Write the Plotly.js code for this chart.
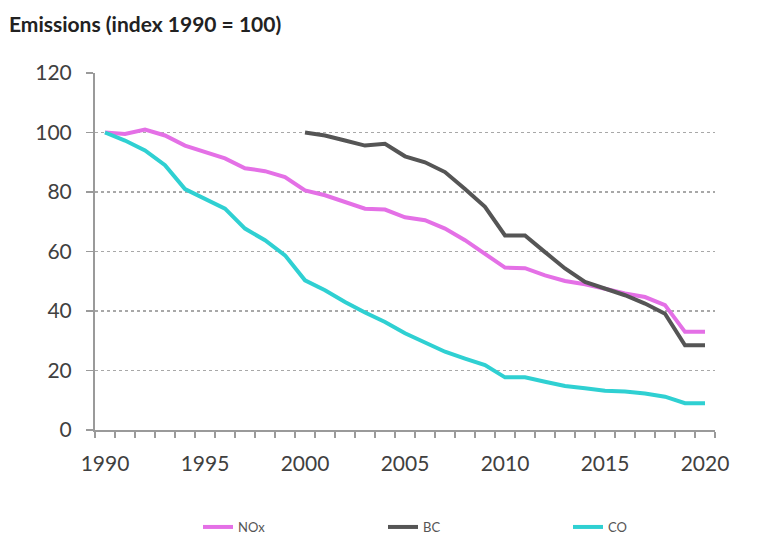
<!DOCTYPE html>
<html>
<head>
<meta charset="utf-8">
<script src="https://cdn.plot.ly/plotly-3.0.1.min.js"></script>
<style>
  html, body { margin: 0; padding: 0; background: #ffffff; }
  #chart { width: 768px; height: 541px; }
</style>
</head>
<body>
<div id="chart"></div>
<script>
// Years (categories)
const years = [1990,1991,1992,1993,1994,1995,1996,1997,1998,1999,2000,2001,2002,2003,2004,2005,2006,2007,2008,2009,2010,2011,2012,2013,2014,2015,2016,2017,2018,2019,2020];
const bcYears = [2000,2001,2002,2003,2004,2005,2006,2007,2008,2009,2010,2011,2012,2013,2014,2015,2016,2017,2018,2019,2020];

// Series values (index 1990 = 100)
const noxValues = [100, 99.5, 101, 99, 95.6, 93.4, 91.3, 88, 87, 85, 80.5, 78.9, 76.6, 74.4, 74.1, 71.5, 70.5, 67.7, 63.8, 59.3, 54.6, 54.4, 52, 50.1, 49, 47.5, 45.9, 44.7, 42, 33, 33];
const bcValues = [100, 99, 97.3, 95.6, 96.2, 92, 90, 86.7, 81, 75, 65.4, 65.4, 59.8, 54.3, 49.8, 47.5, 45.3, 42.5, 39.1, 28.5, 28.5];
const coValues = [100, 97.3, 94, 89, 81, 77.7, 74.4, 67.7, 63.8, 58.7, 50.3, 47, 43, 39.5, 36.3, 32.5, 29.3, 26.3, 24, 21.8, 17.7, 17.7, 16.2, 14.8, 14, 13.2, 12.9, 12.3, 11.2, 9, 9];

// Tick labels
const xTickVals = [1990, 1995, 2000, 2005, 2010, 2015, 2020];
const xTickText = ["1990", "1995", "2000", "2005", "2010", "2015", "2020"];
const yTickVals = [0, 20, 40, 60, 80, 100, 120];

const seriesNames = ["NOx", "BC", "CO"];
const titleText = "Emissions (index 1990 = 100)";

const FONT = "Lato, 'Open Sans', 'Liberation Sans', sans-serif";

const traces = [
  { x: years, y: noxValues, name: seriesNames[0], type: "scatter", mode: "lines",
    line: { color: "#e470e6", width: 4 } },
  { x: bcYears, y: bcValues, name: seriesNames[1], type: "scatter", mode: "lines",
    line: { color: "#555555", width: 4 } },
  { x: years, y: coValues, name: seriesNames[2], type: "scatter", mode: "lines",
    line: { color: "#2fd0d2", width: 4 } }
];

const layout = {
  width: 768, height: 541,
  paper_bgcolor: "#ffffff", plot_bgcolor: "#ffffff",
  margin: { l: 95, r: 53, t: 73, b: 111, pad: 0 },
  font: { family: FONT, color: "#404040" },
  title: {
    text: titleText,
    font: { family: FONT, size: 21, color: "#222222", weight: "bold" },
    xref: "container", yref: "container",
    x: 9 / 768, xanchor: "left",
    y: 1 - 25 / 541, yanchor: "middle"
  },
  xaxis: {
    range: [1989.5, 2020.5],
    tickmode: "array", tickvals: xTickVals, ticktext: xTickText,
    ticks: "", showgrid: false, zeroline: false,
    showline: true, linecolor: "#9a9a9a", linewidth: 2,
    tickfont: { family: FONT, size: 21, color: "#404040" },
    ticklabelstandoff: 14,
    minor: { tick0: 1989.5, dtick: 1, ticks: "outside", ticklen: 6, tickwidth: 1.5, tickcolor: "#9a9a9a", showgrid: false }
  },
  yaxis: {
    range: [0, 120],
    tickmode: "array", tickvals: yTickVals,
    ticks: "outside", ticklen: 7, tickwidth: 1.5, tickcolor: "#9a9a9a",
    showgrid: true, gridcolor: "#a8a8a8", gridwidth: 1.5, griddash: "dot",
    zeroline: false,
    showline: true, linecolor: "#9a9a9a", linewidth: 2,
    tickfont: { family: FONT, size: 21, color: "#404040" },
    ticklabelstandoff: 10
  },
  showlegend: true,
  legend: {
    orientation: "h",
    xref: "container", yref: "container",
    x: 198 / 768, xanchor: "left",
    y: 1 - 527 / 541, yanchor: "middle",
    entrywidth: 140, entrywidthmode: "pixels",
    font: { family: FONT, size: 13, color: "#555555" },
    itemwidth: 30,
    bgcolor: "rgba(0,0,0,0)"
  }
};

Plotly.newPlot("chart", traces, layout, { displayModeBar: false, staticPlot: true });
</script>
</body>
</html>
